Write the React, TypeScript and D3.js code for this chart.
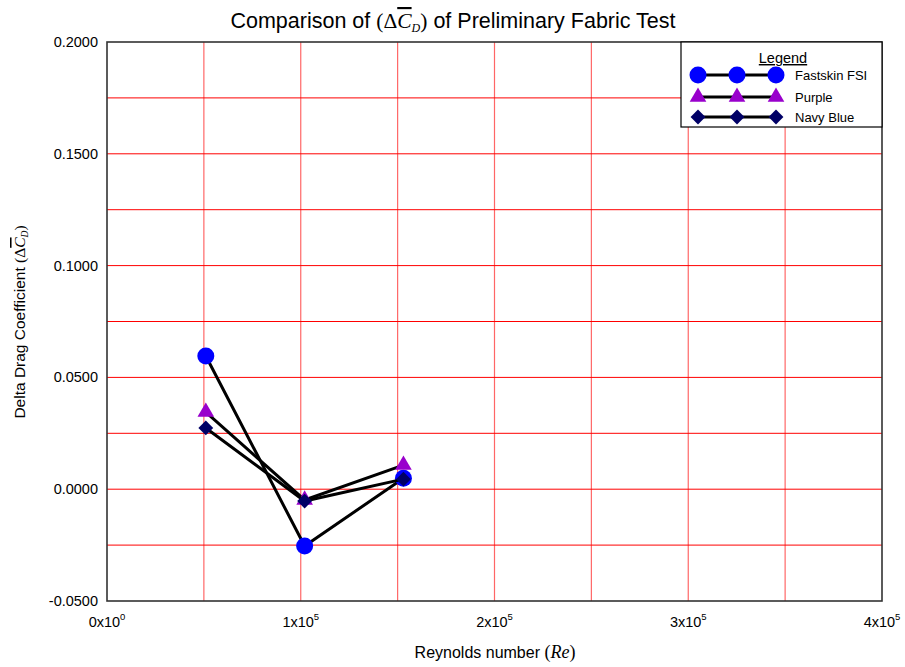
import React from "react";
import * as d3 from "d3";

const reynolds = [51000, 102000, 153000];
const fastskinFSI = [0.0596, -0.0254, 0.0049];
const purple = [0.0345, -0.0048, 0.0108];
const navyBlue = [0.0274, -0.0053, 0.0045];

const seriesNames = ["Fastskin FSI", "Purple", "Navy Blue"];
const seriesColors = ["#0000ff", "#9900cc", "#000066"];
const seriesShapes = ["circle", "triangle", "diamond"];

const yTicks = [-0.05, 0, 0.05, 0.1, 0.15, 0.2];
const yGrid = [-0.025, 0, 0.025, 0.05, 0.075, 0.1, 0.125, 0.15, 0.175];
const xTickExps = [0, 5, 5, 5, 5];
const xTickMant = [0, 1, 2, 3, 4];
const xGrid = [50000, 100000, 150000, 200000, 250000, 300000, 350000];

const W = 905;
const H = 667;
const M = { left: 107, right: 882, top: 42, bottom: 601 };
const SANS = "'Liberation Sans', Arial, Helvetica, sans-serif";
const SERIF = "'Liberation Serif', 'Times New Roman', serif";

function Marker({ shape, x, y, color }: { shape: string; x: number; y: number; color: string }) {
  if (shape === "circle") return <circle cx={x} cy={y} r={8.5} fill={color} />;
  if (shape === "triangle") {
    const p = d3.symbol(d3.symbolTriangle, 120)();
    return <path d={p || ""} transform={`translate(${x},${y})`} fill={color} />;
  }
  const p = d3.symbol(d3.symbolSquare, 110)();
  return <path d={p || ""} transform={`translate(${x},${y}) rotate(45)`} fill={color} />;
}

export default function App() {
  const x = d3.scaleLinear().domain([0, 400000]).range([M.left, M.right]);
  const y = d3.scaleLinear().domain([-0.05, 0.2]).range([M.bottom, M.top]);
  const data = [fastskinFSI, purple, navyBlue];
  const line = d3
    .line<[number, number]>()
    .x((d) => x(d[0]))
    .y((d) => y(d[1]));

  const legX = 681;
  const legY = 42;
  const legRows = [75, 97, 117];
  const legMarkX = [698, 737, 776];

  return (
    <svg
      width={W}
      height={H}
      style={{ position: "absolute", left: 0, top: 0, background: "#fff" }}
      fontFamily={SANS}
    >
      <rect x={0} y={0} width={W} height={H} fill="#fff" />
      {/* Title */}
      <text x={453} y={28} textAnchor="middle" fontSize={21.5} fill="#000">
        <tspan>Comparison of </tspan>
        <tspan fontFamily={SERIF}>(Δ</tspan>
        <tspan fontFamily={SERIF} fontStyle="italic" style={{ textDecoration: "overline" }}>C</tspan>
        <tspan fontFamily={SERIF} fontStyle="italic" fontSize={12} dy={4}>D</tspan>
        <tspan fontFamily={SERIF} dy={-4}>)</tspan>
        <tspan> of Preliminary Fabric Test</tspan>
      </text>

      {/* Grid */}
      {yGrid.map((v, i) => (
        <line key={"yg" + i} x1={M.left} x2={M.right} y1={y(v)} y2={y(v)} stroke="#ff0000" strokeWidth={1} />
      ))}
      {xGrid.map((v, i) => (
        <line key={"xg" + i} x1={x(v)} x2={x(v)} y1={M.top} y2={M.bottom} stroke="#ff0000" strokeOpacity={0.6} strokeWidth={1.2} />
      ))}

      {/* Frame */}
      <rect x={M.left} y={M.top} width={M.right - M.left} height={M.bottom - M.top} fill="none" stroke="#333" strokeWidth={1.6} />

      {/* Y tick labels */}
      {yTicks.map((v, i) => (
        <text key={"yt" + i} x={98} y={y(v) + 5} textAnchor="end" fontSize={14.5} fill="#000">
          {v.toFixed(4)}
        </text>
      ))}

      {/* X tick labels */}
      {xTickMant.map((m, i) => (
        <text key={"xt" + i} x={x(m * 100000)} y={627} textAnchor="middle" fontSize={14.5} fill="#000">
          <tspan>{`${m}x10`}</tspan>
          <tspan fontSize={9.5} dy={-7}>{xTickExps[i]}</tspan>
        </text>
      ))}

      {/* Axis titles */}
      <text x={495} y={658} textAnchor="middle" fontSize={16} fill="#000">
        <tspan>Reynolds number  </tspan>
        <tspan fontFamily={SERIF} fontSize={18}>(</tspan>
        <tspan fontFamily={SERIF} fontStyle="italic" fontSize={18}>Re</tspan>
        <tspan fontFamily={SERIF} fontSize={18}>)</tspan>
      </text>
      <text
        transform={`translate(25, 322) rotate(-90)`}
        textAnchor="middle"
        fontSize={15.5}
        fill="#000"
      >
        <tspan>Delta Drag Coefficient </tspan>
        <tspan fontFamily={SERIF}>(Δ</tspan>
        <tspan fontFamily={SERIF} fontStyle="italic" style={{ textDecoration: "overline" }}>C</tspan>
        <tspan fontFamily={SERIF} fontStyle="italic" fontSize={9.5} dy={3}>D</tspan>
        <tspan fontFamily={SERIF} dy={-3}>)</tspan>
      </text>

      {/* Series */}
      {data.map((vals, s) => {
        const pts = reynolds.map((r, i) => [r, vals[i]] as [number, number]);
        return (
          <g key={"s" + s}>
            <path d={line(pts) || ""} fill="none" stroke="#000" strokeWidth={3} />
            {pts.map((p, i) => (
              <Marker key={i} shape={seriesShapes[s]} x={x(p[0])} y={y(p[1])} color={seriesColors[s]} />
            ))}
          </g>
        );
      })}

      {/* Legend */}
      <rect x={legX} y={legY} width={M.right - legX} height={85} fill="#fff" stroke="#000" strokeWidth={1.2} />
      <text x={783} y={63} textAnchor="middle" fontSize={14.5} fill="#000" style={{ textDecoration: "underline" }}>
        Legend
      </text>
      {seriesNames.map((n, s) => (
        <g key={"lg" + s}>
          <line x1={legMarkX[0]} x2={legMarkX[2]} y1={legRows[s]} y2={legRows[s]} stroke="#000" strokeWidth={3} />
          {legMarkX.map((mx, j) => (
            <Marker key={j} shape={seriesShapes[s]} x={mx} y={legRows[s]} color={seriesColors[s]} />
          ))}
          <text x={795} y={legRows[s] + 5} fontSize={13} fill="#000">
            {n}
          </text>
        </g>
      ))}
    </svg>
  );
}
